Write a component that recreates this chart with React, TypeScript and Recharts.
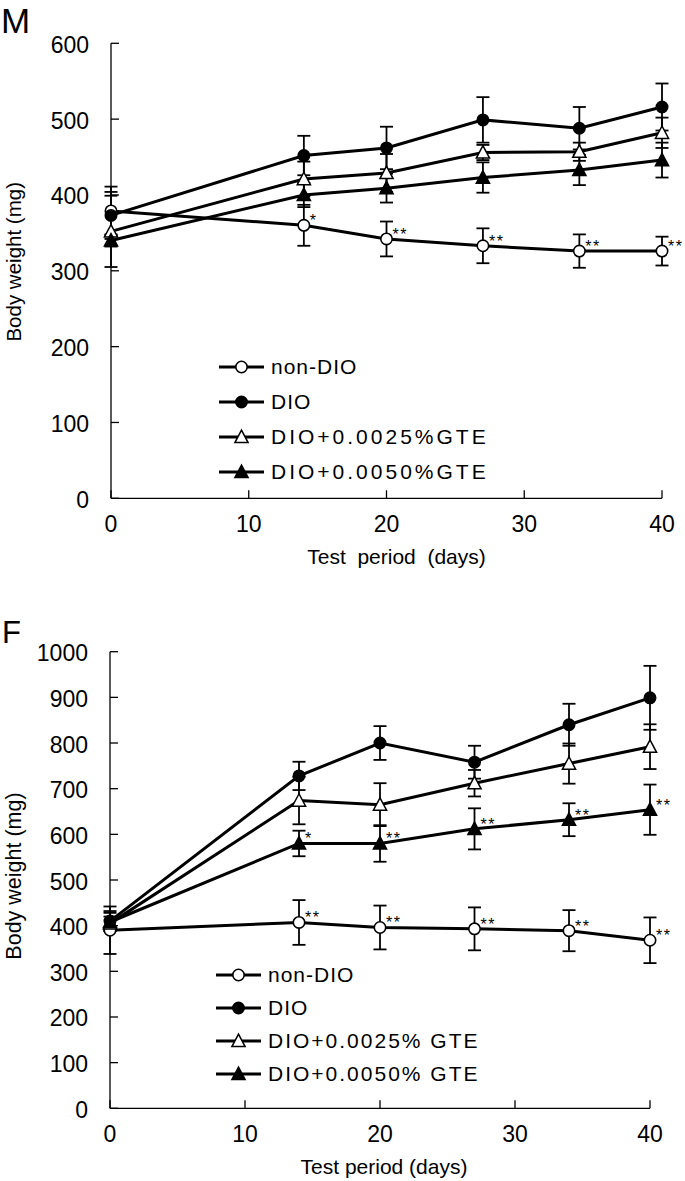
import { ErrorBar, Label, LabelList, Legend, Line, LineChart, XAxis, YAxis } from 'recharts'

const FONT = '"Liberation Sans", Arial, Helvetica, sans-serif'

const DAYS = [0, 14, 20, 27, 34, 40]
const DAY_TICKS = [0, 10, 20, 30, 40]

// panel M
const M_TICKS = [0, 100, 200, 300, 400, 500, 600]
const M_NON_DIO = [379, 360, 342, 333, 326, 326]
const M_NON_DIO_SD = [32, 27, 23, 23, 22, 19]
const M_DIO = [373, 452, 462, 499, 488, 516]
const M_DIO_SD = [31, 26, 28, 30, 28, 31]
const M_GTE25 = [352, 421, 429, 456, 457, 482]
const M_GTE25_SD = [47, 23, 25, 10, 12, 20]
const M_GTE50 = [340, 400, 409, 423, 433, 446]
const M_GTE50_SD = [8, 16, 19, 20, 20, 23]
const M_NON_DIO_SIG = ['', '*', '**', '**', '**', '**']
const M_GTE50_SIG = ['', '', '', '', '', '']
const M_NAMES = ['non-DIO', 'DIO', 'DIO+0.0025%GTE', 'DIO+0.0050%GTE']

// panel F
const F_TICKS = [0, 100, 200, 300, 400, 500, 600, 700, 800, 900, 1000]
const F_NON_DIO = [390, 407, 396, 393, 389, 368]
const F_NON_DIO_SD = [52, 49, 48, 47, 45, 50]
const F_DIO = [410, 728, 800, 758, 840, 899]
const F_DIO_SD = [22, 31, 37, 36, 46, 70]
const F_GTE25 = [405, 674, 665, 712, 755, 792]
const F_GTE25_SD = [15, 52, 47, 29, 44, 49]
const F_GTE50 = [408, 580, 580, 612, 632, 654]
const F_GTE50_SD = [20, 28, 40, 45, 36, 55]
const F_NON_DIO_SIG = ['', '**', '**', '**', '**', '**']
const F_GTE50_SIG = ['', '*', '**', '**', '**', '**']
const F_NAMES = ['non-DIO', 'DIO', 'DIO+0.0025% GTE', 'DIO+0.0050% GTE']

const SERIES = [
  { key: 'nonDio', shape: 'circle', fill: '#fff' },
  { key: 'dio', shape: 'circle', fill: '#000' },
  { key: 'gte25', shape: 'triangle', fill: '#fff' },
  { key: 'gte50', shape: 'triangle', fill: '#000' },
]

function buildRows(vals: number[][], sds: number[][], sigs: string[][]) {
  return DAYS.map((day, i) => ({
    day,
    nonDio: vals[0][i], nonDioSd: sds[0][i], nonDioSig: sigs[0][i],
    dio: vals[1][i], dioSd: sds[1][i],
    gte25: vals[2][i], gte25Sd: sds[2][i],
    gte50: vals[3][i], gte50Sd: sds[3][i], gte50Sig: sigs[1][i],
  }))
}

const mRows = buildRows(
  [M_NON_DIO, M_DIO, M_GTE25, M_GTE50],
  [M_NON_DIO_SD, M_DIO_SD, M_GTE25_SD, M_GTE50_SD],
  [M_NON_DIO_SIG, M_GTE50_SIG],
)
const fRows = buildRows(
  [F_NON_DIO, F_DIO, F_GTE25, F_GTE50],
  [F_NON_DIO_SD, F_DIO_SD, F_GTE25_SD, F_GTE50_SD],
  [F_NON_DIO_SIG, F_GTE50_SIG],
)

function Marker({ cx, cy, shape, fill }: any) {
  if (cx == null || cy == null) return null
  if (shape === 'circle') {
    return <circle cx={cx} cy={cy} r={5.7} fill={fill} stroke="#000" strokeWidth={1.6} />
  }
  return (
    <polygon
      points={`${cx},${cy - 6.8} ${cx - 6.6},${cy + 5.6} ${cx + 6.6},${cy + 5.6}`}
      fill={fill}
      stroke="#000"
      strokeWidth={1.5}
    />
  )
}

const X_GAP = 34
const Y_GAP = 22

const XTick = ({ x, y, payload }: any) => (
  <g>
    <line x1={x} x2={x} y1={y - X_GAP} y2={y - X_GAP - 8} stroke="#000" strokeWidth={1.3} />
    <text x={x} y={y} textAnchor="middle" fontSize={23} fontFamily={FONT} fill="#000">
      {payload.value}
    </text>
  </g>
)

const YTick = ({ x, y, payload }: any) => (
  <g>
    <line x1={x + Y_GAP} x2={x + Y_GAP + 8} y1={y} y2={y} stroke="#000" strokeWidth={1.3} />
    <text x={x} y={y + 9.5} textAnchor="end" fontSize={23} fontFamily={FONT} fill="#000">
      {payload.value}
    </text>
  </g>
)

const StarLabel = ({ x, y, value }: any) => {
  if (!value) return null
  return (
    <text x={x + 6} y={y + 1} fontSize={16} fontFamily={FONT} fill="#000" letterSpacing={1.5}>
      {value}
    </text>
  )
}

interface PanelProps {
  rows: any[]
  top: number
  height: number
  margin: { top: number; right: number; bottom: number; left: number }
  yMax: number
  yTicks: number[]
  yAxisWidth: number
  xAxisHeight: number
  names: string[]
  legendLeft: number
  legendTop: number
  legendRow: number
  nameSpacing: number[]
  xTitle: string
  xTitleShift: number
  yTitleShift: number
  yTitleSize: number
}

function Panel(p: PanelProps) {
  const legend = () => (
    <div style={{ fontFamily: FONT, fontSize: 21, color: '#000' }}>
      {SERIES.map((s, i) => (
        <div key={s.key} style={{ display: 'flex', alignItems: 'center', height: p.legendRow }}>
          <svg width={45} height={20}>
            <line x1={0} x2={45} y1={10} y2={10} stroke="#000" strokeWidth={3} />
            <Marker cx={22.5} cy={10} shape={s.shape} fill={s.fill} />
          </svg>
          <span style={{ marginLeft: 7, letterSpacing: p.nameSpacing[i], whiteSpace: 'pre' }}>{p.names[i]}</span>
        </div>
      ))}
    </div>
  )

  return (
    <div style={{ position: 'absolute', left: 0, top: p.top }}>
      <LineChart width={685} height={p.height} data={p.rows} margin={p.margin}>
        <XAxis
          type="number"
          dataKey="day"
          domain={[0, 40]}
          ticks={DAY_TICKS}
          interval={0}
          height={p.xAxisHeight}
          tickSize={0}
          tickMargin={X_GAP}
          tickLine={false}
          axisLine={{ stroke: '#000', strokeWidth: 1.3 }}
          tick={XTick}
        >
          <Label
            content={({ viewBox }: any) => (
              <text
                x={viewBox.x + viewBox.width / 2 + p.xTitleShift}
                y={viewBox.y + 65.3}
                textAnchor="middle"
                fontSize={21}
                fontFamily={FONT}
                fill="#000"
                style={{ whiteSpace: 'pre' }}
              >
                {p.xTitle}
              </text>
            )}
          />
        </XAxis>
        <YAxis
          type="number"
          domain={[0, p.yMax]}
          ticks={p.yTicks}
          interval={0}
          width={p.yAxisWidth}
          tickSize={0}
          tickMargin={Y_GAP}
          tickLine={false}
          axisLine={{ stroke: '#000', strokeWidth: 1.3 }}
          tick={YTick}
        >
          <Label
            content={({ viewBox }: any) => {
              const cy = viewBox.y + viewBox.height / 2 + p.yTitleShift
              return (
                <text
                  x={21}
                  y={cy}
                  transform={`rotate(-90, 21, ${cy})`}
                  textAnchor="middle"
                  fontSize={p.yTitleSize}
                  fontFamily={FONT}
                  fill="#000"
                >
                  Body weight (mg)
                </text>
              )
            }}
          />
        </YAxis>
        <Legend
          layout="vertical"
          align="center"
          verticalAlign="middle"
          content={legend}
          wrapperStyle={{ left: p.legendLeft, top: p.legendTop, width: 300 }}
        />
        {SERIES.map((s) => (
          <Line
            key={s.key}
            type="linear"
            dataKey={s.key}
            stroke="#000"
            strokeWidth={3}
            isAnimationActive={false}
            activeDot={false}
            dot={(d: any) => <Marker key={`${s.key}-${d.index}`} cx={d.cx} cy={d.cy} shape={s.shape} fill={s.fill} />}
          >
            <ErrorBar
              dataKey={`${s.key}Sd`}
              direction="y"
              width={6.5}
              stroke="#000"
              strokeWidth={1.8}
              isAnimationActive={false}
            />
            {(s.key === 'nonDio' || s.key === 'gte50') && (
              <LabelList dataKey={`${s.key}Sig`} content={StarLabel} />
            )}
          </Line>
        ))}
      </LineChart>
    </div>
  )
}

export default function App() {
  return (
    <div style={{ position: 'absolute', left: 0, top: 0, width: 685, height: 1181, background: '#fff' }}>
      <Panel
        rows={mRows}
        top={0}
        height={590}
        margin={{ top: 43.3, right: 23, bottom: 11.7, left: 0 }}
        yMax={600}
        yTicks={M_TICKS}
        yAxisWidth={111}
        xAxisHeight={80}
        names={M_NAMES}
        legendLeft={219}
        legendTop={349.5}
        legendRow={35}
        nameSpacing={[1, 1, 3, 3]}
        xTitle="Test  period  (days)"
        xTitleShift={10}
        yTitleShift={-9}
        yTitleSize={20.5}
      />
      <Panel
        rows={fRows}
        top={590}
        height={591}
        margin={{ top: 61.7, right: 35, bottom: 2.7, left: 0 }}
        yMax={1000}
        yTicks={F_TICKS}
        yAxisWidth={110}
        xAxisHeight={70}
        names={F_NAMES}
        legendLeft={216}
        legendTop={368.5}
        legendRow={33}
        nameSpacing={[1, 1, 2, 2]}
        xTitle="Test period (days)"
        xTitleShift={4}
        yTitleShift={-4}
        yTitleSize={21.5}
      />
      <svg width={685} height={1181} style={{ position: 'absolute', left: 0, top: 0, pointerEvents: 'none' }}>
        <text x={1} y={33} fontSize={35} fontFamily={FONT} fill="#000">M</text>
        <text x={2} y={643} fontSize={31} fontFamily={FONT} fill="#000">F</text>
      </svg>
    </div>
  )
}
